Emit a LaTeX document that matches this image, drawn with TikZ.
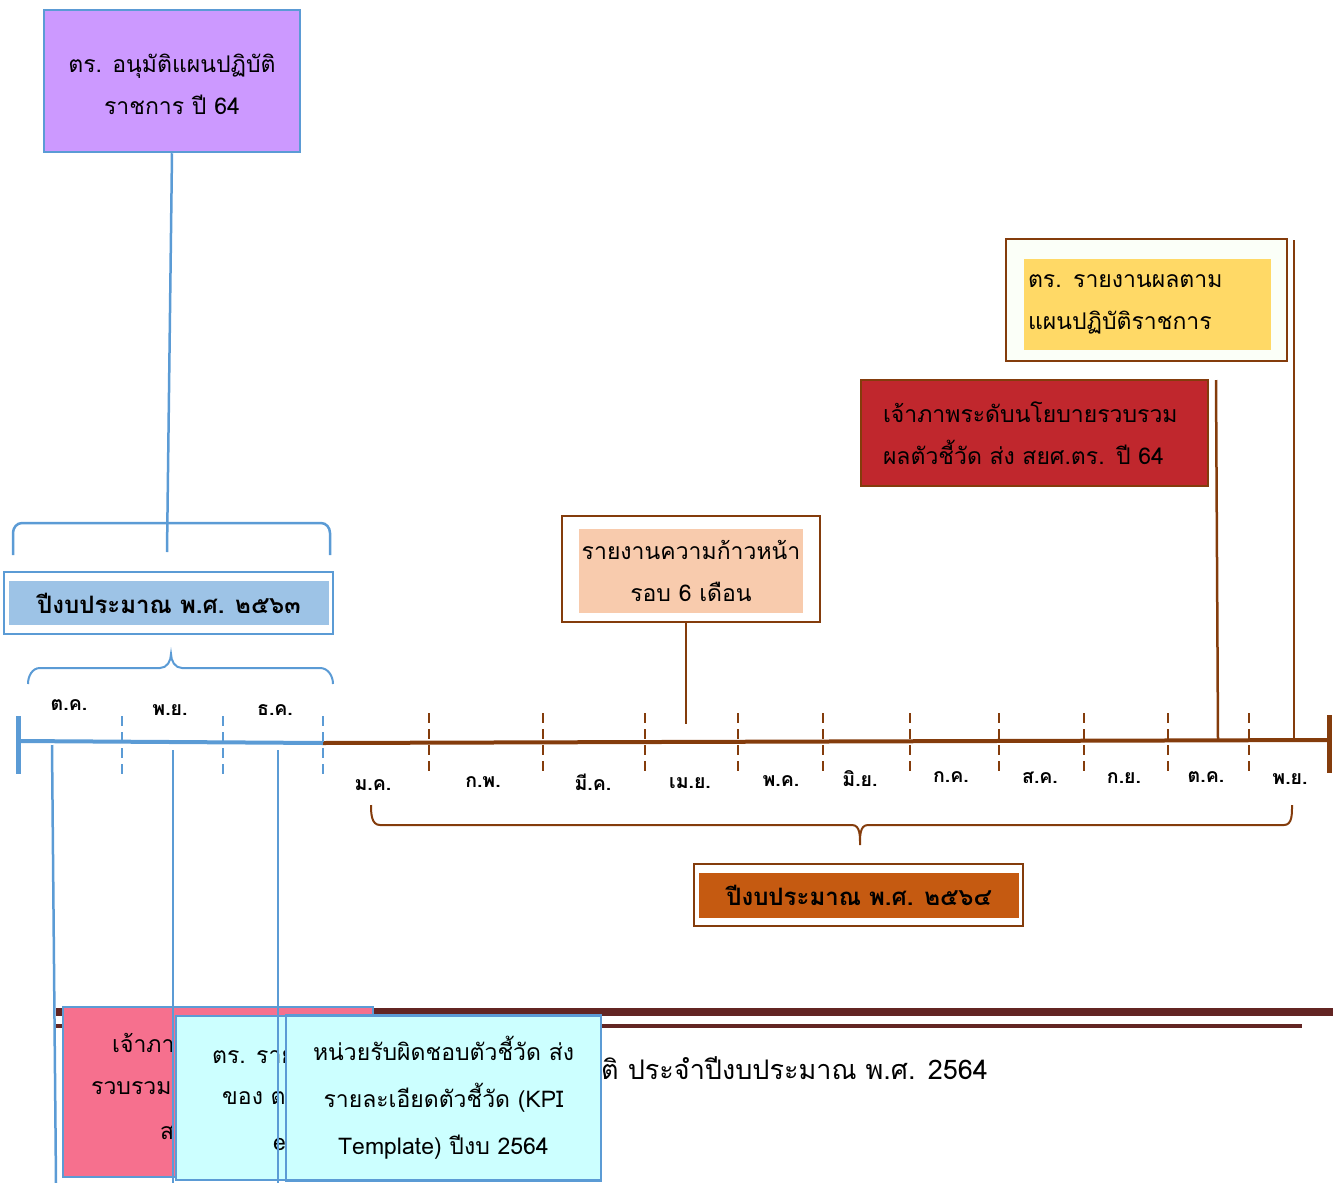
\documentclass[tikz,border=0pt]{standalone}
\usepackage{fontspec}
\newfontfamily\thai[Script=Thai]{Loma}
\definecolor{bl}{HTML}{5B9BD5}
\definecolor{br}{HTML}{843C0C}
\definecolor{purp}{HTML}{CC99FF}
\definecolor{lblue}{HTML}{9DC3E6}
\definecolor{orng}{HTML}{C55A11}
\definecolor{peach}{HTML}{F8CBAD}
\definecolor{redb}{HTML}{C0272D}
\definecolor{yel}{HTML}{FFD966}
\definecolor{pinkb}{HTML}{F6708E}
\definecolor{cyanb}{HTML}{CCFFFF}
\definecolor{dred}{HTML}{632523}
\tikzset{
  txt/.style={font=\thai\fontsize{23}{42}\selectfont, inner sep=0},
  mon/.style={font=\thai\bfseries\fontsize{19.5}{22}\selectfont, inner sep=0},
  ttl/.style={font=\thai\bfseries\fontsize{24}{28}\selectfont, inner sep=0},
  bline/.style={draw=bl, line width=2.5},
  brline/.style={draw=br, line width=2.5},
  btick/.style={draw=bl, line width=2.5, dash pattern=on 10 off 6},
  brtick/.style={draw=br, line width=2.5, dash pattern=on 10 off 6},
}
\begin{document}
\begin{tikzpicture}[x=1pt,y=-1pt]
\useasboundingbox (0,0) rectangle (1333,1183);
\clip (0,0) rectangle (1333,1183);

% ---------- top purple box
\node[draw=bl, line width=2.5, fill=purp, minimum width=256, minimum height=142, align=center, txt] (plan) at (172,81) {\rule{0pt}{26pt}ตร. อนุมัติแผนปฏิบัติ\\ราชการ ปี 64};
\coordinate (bt) at (167,552);
\draw[bline] (plan.south) -- (bt);
% top bracket
\draw[bline] (13,555) -- (13,533) to[out=90,in=180] (22,523) -- (321,523) to[out=0,in=90] (330,533) -- (330,555);

% ---------- 2563 box
\node[draw=bl, line width=1.5, fill=white, minimum width=329, minimum height=62] (y63o) at (168.5,603) {};
\node[fill=lblue, minimum width=320, minimum height=44, ttl] (y63) at (169,603) {ปีงบประมาณ พ.ศ. ๒๕๖๓};
% lower blue brace
\draw[draw=bl, line width=2] (28,684) to[out=90,in=180] (40,668) -- (160,668) to[out=0,in=-90] (171,654) to[out=-90,in=180] (182,668) -- (320,668) to[out=0,in=90] (333,684);

% ---------- timeline
\coordinate (t0) at (18,741);
\coordinate (tm) at (323,743);
\coordinate (t1) at (1329,740);
\draw[draw=br, line width=4] (tm) -- (t1);
\draw[draw=bl, line width=4] (t0) -- (tm);
\draw[draw=bl, line width=5] (18,716) -- (18,774);
\draw[draw=br, line width=5] (1329,715) -- (1329,773);
\foreach \x in {122,223,323} \draw[btick] (\x,716) -- (\x,775);
\foreach \x in {429,543,645,738,823,910,999,1084,1168,1249} \draw[brtick] (\x,713) -- (\x,771);

% month labels
\node[mon] (m10a) at (69,705) {ต.ค.};
\node[mon] (m11a) at (170,710) {พ.ย.};
\node[mon] (m12a) at (275,710) {ธ.ค.};
\node[mon] (m1) at (373,785) {ม.ค.};
\node[mon] (m2) at (483,782) {ก.พ.};
\node[mon] (m3) at (593,782) {มี.ค.};
\node[mon] (m4) at (690,783) {เม.ย.};
\node[mon] (m5) at (781,781) {พ.ค.};
\node[mon] (m6) at (860,779) {มิ.ย.};
\node[mon] (m7) at (951,777) {ก.ค.};
\node[mon] (m8) at (1040,778) {ส.ค.};
\node[mon] (m9) at (1124,778) {ก.ย.};
\node[mon] (m10) at (1206,777) {ต.ค.};
\node[mon] (m11) at (1290,779) {พ.ย.};

% brown brace
\draw[draw=br, line width=2] (371,805) to[out=-90,in=180] (380,825) -- (852,825) to[out=0,in=90] (860,845) to[out=90,in=180] (868,825) -- (1284,825) to[out=0,in=-90] (1292,805);

% ---------- 2564 box
\node[draw=br, line width=1.5, fill=white, minimum width=329, minimum height=62] (y64o) at (858.5,895) {};
\node[fill=orng, minimum width=320, minimum height=45, ttl] (y64) at (859,895.5) {ปีงบประมาณ พ.ศ. ๒๕๖๔};

% ---------- progress box
\node[draw=br, line width=2.5, fill=white, minimum width=258, minimum height=106] (prgo) at (691,569) {};
\node[fill=peach, minimum width=224, minimum height=84, align=center, txt] (prg) at (691,571) {รายงานความก้าวหน้า\\รอบ 6 เดือน};
\coordinate (pt) at (686,724);
\draw[brline] (prgo.south -| pt) -- (pt);

% ---------- red box
\node[draw=br, line width=2.5, fill=redb, minimum width=347, minimum height=106, text width=303, inner xsep=22, inner ysep=0, align=left, font=\thai\fontsize{23}{42}\selectfont] (red) at (1034.5,433) {เจ้าภาพระดับนโยบายรวบรวม\\ผลตัวชี้วัด ส่ง สยศ.ตร. ปี 64};
\coordinate (rt) at (1218,740);
\coordinate (rtop) at (1216,380);
\draw[brline] (rtop) -- (rt);

% ---------- yellow box
\node[draw=br, line width=2.5, fill={rgb,255:red,251;green,255;blue,248}, minimum width=281, minimum height=122] (yelo) at (1146.5,300) {};
\node[fill=yel, minimum width=247, minimum height=91, text width=239, inner xsep=4, inner ysep=0, align=left, font=\thai\fontsize{23}{42}\selectfont] (yelb) at (1147.5,304.5) {ตร. รายงานผลตาม\\แผนปฏิบัติราชการ};
\coordinate (yt) at (1294,740);
\coordinate (ytop) at (1294,240);
\draw[brline] (ytop) -- (yt);

% ---------- bottom page elements
\draw[draw=dred, line width=8] (56,1012) -- (1333,1012);
\draw[draw=dred, line width=4] (56,1026) -- (1302,1026);
\node[font=\thai\fontsize{27}{30}\selectfont, inner sep=0, anchor=west] (foot) at (601,1068) {ติ ประจำปีงบประมาณ พ.ศ. 2564};

% pink box
\node[draw=bl, line width=2.5, fill=pinkb, minimum width=310, minimum height=170] (pink) at (218,1092) {};
\node[txt, anchor=west] (pk1) at (112,1043) {เจ้าภา};
\node[txt, anchor=west] (pk2) at (91,1088) {รวบรวม};
\node[txt, anchor=west] (pk3) at (160,1133) {ส};
% cyan box 1
\node[draw=bl, line width=2.5, fill=cyanb, minimum width=314, minimum height=164] (cy1) at (333,1098) {};
\node[txt, anchor=west] (c11) at (212,1057) {ตร. ราย};
\node[txt, anchor=west] (c12) at (222,1098) {ของ ต};
\node[txt, anchor=west] (c13) at (273,1144) {e};
% cyan box 2
\node[draw=bl, line width=2.5, fill=cyanb, minimum width=315, minimum height=165, align=center, font=\thai\fontsize{23}{47}\selectfont, inner sep=0] (cy2) at (443.5,1098) {หน่วยรับผิดชอบตัวชี้วัด ส่ง\\รายละเอียดตัวชี้วัด (KPI\\Template) ปีงบ 2564};

% connectors from the timeline down
\coordinate (d1) at (52,745); \coordinate (e1) at (56,1183);
\coordinate (d2) at (173,750); \coordinate (e2) at (173,1183);
\coordinate (d3) at (278,750); \coordinate (e3) at (278,1183);
\draw[bline] (d1) -- (e1);
\draw[bline] (d2) -- (e2);
\draw[bline] (d3) -- (e3);
\end{tikzpicture}
\end{document}
